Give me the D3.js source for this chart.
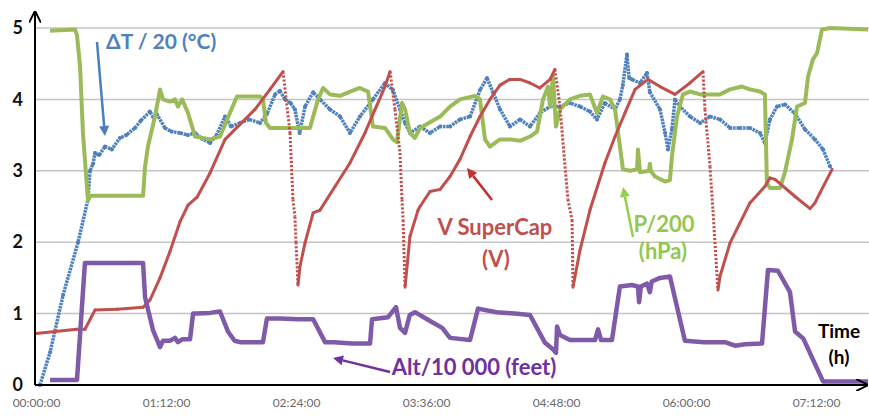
<!DOCTYPE html>
<html>
<head>
<meta charset="utf-8">
<script src="https://cdn.jsdelivr.net/npm/d3@7/dist/d3.min.js"></script>
<style>
  html, body { margin: 0; padding: 0; background: #fff; }
  svg { display: block; }
</style>
</head>
<body>
<svg id="chart" width="869" height="416"></svg>
<script>
// ---------- DATA (time in minutes since 00:00:00) ----------
const tickMinutes = [0, 72, 144, 216, 288, 360, 432];
const tickLabels = ["00:00:00", "01:12:00", "02:24:00", "03:36:00", "04:48:00", "06:00:00", "07:12:00"];
const yTicks = [0, 1, 2, 3, 4, 5];

// ΔT / 20 (°C)
const dTTime = [2.2,7.8,15,23.3,28.8,29.9,31.6,32.7,35,38.2,42,46.5,50,54.8,58,63.1,65,67,71.4,75,79.8,84,88.1,92,96.4,100,104.7,108,113,118,124.1,128,132.4,135.1,137.9,141,143.4,146,149,153.5,157.3,162.8,168.4,173.9,179.4,186.6,193.3,197.7,201.6,204.4,207.1,212.7,218.2,223.8,229.3,234.8,240.4,245.9,249.8,253.1,257,262.5,268.1,273.6,279.1,284.7,290.2,295.7,301.3,306.8,310.7,315.1,320.7,323.4,325,327.3,328.5,330.1,334.5,338.4,340,345.6,348.4,350,352.2,353.9,356.7,362.2,367.8,373.3,378.8,384.4,389.9,395.4,401,403.7,406.5,410.4,414.8,420.4,425.9,431.4,435.9,439.8];
const dTValue = [0,0.46,1.26,2.0,2.6,3.0,3.1,3.25,3.22,3.34,3.3,3.46,3.5,3.6,3.7,3.83,3.75,3.79,3.6,3.55,3.53,3.5,3.53,3.45,3.39,3.5,3.76,3.62,3.67,3.72,3.67,3.8,4.07,4.12,4.0,3.95,3.86,3.53,3.9,4.1,4.0,3.86,3.76,3.53,3.76,4.0,4.23,4.13,3.86,3.67,3.53,3.62,3.53,3.62,3.62,3.72,3.76,4.13,4.3,4.1,3.86,3.62,3.72,3.62,3.81,3.9,3.9,3.95,3.9,3.83,3.72,3.95,3.86,4.0,4.2,4.63,4.3,4.28,4.23,4.37,4.1,3.86,3.53,3.3,3.58,4.0,3.9,3.76,3.67,3.76,3.72,3.6,3.6,3.6,3.53,3.39,3.72,3.9,3.93,3.8,3.58,3.44,3.3,3.06];

// P / 200 (hPa)
const pTime = [7.8,21.6,22.7,24.4,26.0,28.2,28.8,30,59.3,60.4,62.0,65.9,68.7,70.3,74.2,77.0,78.6,80.9,84.2,88.1,96.4,101.9,107.4,111.3,124.1,125.7,127.4,129.6,140.7,151.7,156.2,159.0,162.8,168.4,173.9,179.4,183.9,186.6,193.3,197.7,199.9,202.7,204.4,207.1,209.9,212.7,223.8,229.3,234.8,243.1,245.9,248.7,251.4,257,262.5,268.1,273.6,277.5,280.8,283.6,284.7,286.3,288.0,290.2,295.7,301.3,306.8,310.7,314.0,317.9,320.7,323.4,325.1,329.0,332.9,333.4,334.5,339.5,340.0,340.5,342.8,348.4,351.1,352.2,355.0,358.3,362.2,367.8,378.8,384.4,391.0,395.4,401.0,403.7,404.8,406.5,412.1,414.8,418.7,421.5,425.9,427.6,430.3,432.6,435.3,439.8,460.8];
const pValue = [4.96,4.98,4.9,4.46,3.53,2.78,2.58,2.65,2.65,3.06,3.34,3.76,4.14,4.0,3.97,4.0,3.9,4.0,3.81,3.48,3.44,3.48,3.81,4.04,4.04,4.0,3.67,3.6,3.6,3.6,4.0,4.16,4.07,4.05,4.11,4.16,4.11,3.62,3.6,3.44,3.4,3.95,3.86,3.53,3.46,3.6,3.76,3.9,4.0,4.05,4.0,3.44,3.34,3.44,3.44,3.42,3.48,3.55,4.0,4.18,3.9,4.32,3.62,3.86,4.0,4.05,4.07,3.81,4.04,4.0,3.86,3.34,3.02,3.0,3.02,3.3,2.98,3.0,3.1,3.0,2.92,2.85,2.87,3.2,3.76,4.07,4.11,4.07,4.07,4.14,4.18,4.14,4.11,4.07,2.83,2.76,2.76,2.98,3.44,3.9,3.95,4.32,4.56,4.65,4.98,5.0,4.98];

// V SuperCap (V)
const vTime = [0,22.7,27.1,32.7,45,59.3,63.1,68.7,74.2,79.8,84.2,89.2,96.4,104.7,113,121.3,129.6,136.8,140.7,142.3,143.4,144,145.1,146.2,149,153.5,157.3,165.6,173.9,182.2,187.8,193.3,196.1,198.8,201.6,202.7,203.3,204.4,207.1,211.6,212.7,218.2,223.8,229.3,234.8,240.4,245.9,251.4,257,262.5,268.1,273.6,279.1,284.7,287.4,290.2,293,294.6,296.9,297.4,301.3,306.8,315.1,320.7,326.2,331.8,338.9,345.6,353.9,362.2,369.4,370.5,373.3,374.9,377.7,378.8,384.4,389.9,395.4,403.7,406.5,409.3,420.4,428.7,431.4,434.2,440.9];
const vValue = [0.72,0.78,0.78,1.05,1.06,1.09,1.19,1.5,1.87,2.29,2.52,2.63,2.97,3.44,3.65,3.86,4.14,4.39,3.53,2.6,2.36,2.0,1.4,1.66,1.99,2.41,2.45,2.78,3.11,3.53,3.86,4.18,4.39,3.86,3.25,2.6,2.31,1.37,2.08,2.45,2.5,2.71,2.74,2.92,3.16,3.48,3.76,4.0,4.2,4.28,4.28,4.23,4.16,4.28,4.42,3.9,3.06,2.6,2.31,1.37,1.89,2.45,3.11,3.48,3.81,4.14,4.28,4.18,4.07,4.23,4.39,3.86,3.06,2.45,1.33,1.52,1.99,2.27,2.55,2.78,2.9,2.88,2.64,2.47,2.55,2.69,3.02];

// Alt / 10 000 (feet)
const altTime = [7.8,22.7,27.1,59.3,60.4,64.8,68.7,70.3,74.2,77.0,78.6,81,85.3,87.0,89.2,96.4,101.9,106.3,110,113,121.3,125.7,127.9,135.1,145.1,153.5,160.1,165,175,185,186.1,195,199.4,201.6,204.4,207,209.9,218,225,229.3,240.4,244.8,255,265,273.6,281.9,286.3,288.0,288.6,290.2,295.7,309.6,311.3,313,319.0,323.4,330,333.4,334,335,338.4,340,341,345.6,351.1,359.4,370,381.6,387.1,392.7,402.1,405.4,410.9,417.6,420.4,425,435.9,460.8];
const altValue = [0.07,0.07,1.71,1.71,1.23,0.77,0.53,0.62,0.62,0.66,0.6,0.64,0.64,1.0,1.0,1.01,1.03,0.75,0.62,0.6,0.6,0.6,0.93,0.93,0.92,0.92,0.6,0.6,0.58,0.58,0.92,0.95,1.09,0.8,0.73,0.98,1.02,0.9,0.8,0.66,0.63,1.07,1.02,1.0,0.98,0.59,0.5,0.45,0.82,0.7,0.63,0.63,0.78,0.63,0.63,1.38,1.4,1.38,1.16,1.38,1.42,1.3,1.45,1.5,1.52,0.62,0.6,0.6,0.55,0.57,0.58,1.61,1.6,1.3,0.75,0.65,0.05,0.05];

// ---------- DRAWING ----------
const svg = d3.select("#chart");
const x = d3.scaleLinear().domain([0, 460.8]).range([36, 868]);
const y = d3.scaleLinear().domain([0, 5]).range([385, 28]);

const FONT = "Lato, 'Open Sans', 'DejaVu Sans', sans-serif";

// gridlines
svg.append("g").selectAll("line")
  .data(yTicks.filter(d => d > 0))
  .join("line")
  .attr("x1", 35).attr("x2", 869)
  .attr("y1", d => y(d)).attr("y2", d => y(d))
  .attr("stroke", "#c4c4c4").attr("stroke-width", 1.5);

// y axis labels
const yAxis = d3.axisLeft(y).tickValues(yTicks).tickFormat(d3.format("d")).tickSize(0).tickPadding(12);
const gy = svg.append("g").attr("transform", "translate(35,0)").call(yAxis);
gy.select(".domain").remove();
gy.selectAll("text").attr("font-family", FONT).attr("font-weight", "bold").attr("font-size", 18).attr("fill", "#111");

// x axis labels
const xAxis = d3.axisBottom(x).tickValues(tickMinutes).tickFormat((d, i) => tickLabels[i]).tickSize(0).tickPadding(13);
const gx = svg.append("g").attr("transform", "translate(0,385)").call(xAxis);
gx.select(".domain").remove();
gx.selectAll("text").attr("font-family", FONT).attr("font-size", 12).attr("fill", "#6a6a6a");

function series(t, v) { return t.map((d, i) => [d, v[i]]); }
const line = d3.line().x(d => x(d[0])).y(d => y(d[1]));

// ΔT (dotted band look)
const dT = series(dTTime, dTValue);
svg.append("path").datum(dT).attr("d", line)
  .attr("fill", "none").attr("stroke", "#4f81bd").attr("stroke-width", 3.5)
  .attr("stroke-linejoin", "round").attr("stroke-dasharray", "2.5,0.8");
svg.append("g").selectAll("circle").data(dT).join("circle")
  .attr("cx", d => x(d[0])).attr("cy", d => y(d[1])).attr("r", 2).attr("fill", "#4f81bd");

// Pressure
svg.append("path").datum(series(pTime, pValue)).attr("d", line)
  .attr("fill", "none").attr("stroke", "#9bbb59").attr("stroke-width", 4)
  .attr("stroke-linejoin", "round");

// SuperCap: solid when rising, dotted where it drops fast
const vData = series(vTime, vValue);
const segG = svg.append("g");
for (let i = 1; i < vData.length; i++) {
  const a = vData[i - 1], b = vData[i];
  const fast = (a[1] - b[1]) / Math.max(b[0] - a[0], 0.1) > 0.1;
  segG.append("line")
    .attr("x1", x(a[0])).attr("y1", y(a[1])).attr("x2", x(b[0])).attr("y2", y(b[1]))
    .attr("stroke", "#c0504d").attr("stroke-width", fast ? 3 : 3)
    .attr("stroke-linecap", fast ? "butt" : "round")
    .attr("stroke-dasharray", fast ? "2.2,1.8" : null);
}

// Altitude
svg.append("path").datum(series(altTime, altValue)).attr("d", line)
  .attr("fill", "none").attr("stroke", "#7f5aa8").attr("stroke-width", 4.5)
  .attr("stroke-linejoin", "round");

// axes lines with arrows
const defs = svg.append("defs");
defs.append("marker").attr("id", "axArrow").attr("viewBox", "0 0 10 10")
  .attr("refX", 9).attr("refY", 5).attr("markerWidth", 6).attr("markerHeight", 6)
  .attr("markerUnits", "strokeWidth").attr("orient", "auto")
  .append("path").attr("d", "M0,0 L10,5 L0,10").attr("fill", "none").attr("stroke", "#000").attr("stroke-width", 1.6);
svg.append("line").attr("x1", 35).attr("y1", 385).attr("x2", 35).attr("y2", 12)
  .attr("stroke", "#000").attr("stroke-width", 2).attr("marker-end", "url(#axArrow)");
svg.append("line").attr("x1", 35).attr("y1", 385).attr("x2", 867).attr("y2", 385)
  .attr("stroke", "#000").attr("stroke-width", 2).attr("marker-end", "url(#axArrow)");

// annotation arrows
function arrow(x1, y1, x2, y2, color, w) {
  const ang = Math.atan2(y2 - y1, x2 - x1);
  const L = 10, H = 5;
  const bx = x2 - L * Math.cos(ang), by = y2 - L * Math.sin(ang);
  svg.append("line").attr("x1", x1).attr("y1", y1).attr("x2", bx).attr("y2", by)
    .attr("stroke", color).attr("stroke-width", w);
  svg.append("path")
    .attr("d", `M${x2},${y2} L${bx - H * Math.sin(ang)},${by + H * Math.cos(ang)} L${bx + H * Math.sin(ang)},${by - H * Math.cos(ang)} Z`)
    .attr("fill", color);
}
arrow(97, 42, 105, 136, "#4a7ebf", 2.5);
arrow(492, 200, 467, 168, "#c0312b", 2.5);
arrow(390, 372, 333, 358, "#7030a0", 2.5);
arrow(633, 237, 623, 187, "#92d050", 2.5);

// annotation text
function label(txt, xx, yy, color, size, anchor) {
  svg.append("text").attr("x", xx).attr("y", yy).text(txt)
    .attr("font-family", FONT).attr("font-weight", "bold").attr("font-size", size)
    .attr("fill", color).attr("text-anchor", anchor || "start");
}
label("ΔT / 20 (°C)", 106, 49, "#4f81bd", 21);
label("V SuperCap", 495, 235, "#c0504d", 22, "middle");
label("(V)", 496, 267, "#c0504d", 22, "middle");
label("Alt/10 000 (feet)", 474, 375, "#7030a0", 22, "middle");
label("P/200", 664, 232, "#92c850", 22, "middle");
label("(hPa)", 663, 259, "#92c850", 22, "middle");
label("Time", 839, 338, "#000", 19, "middle");
label("(h)", 839, 364, "#000", 19, "middle");
</script>
</body>
</html>
